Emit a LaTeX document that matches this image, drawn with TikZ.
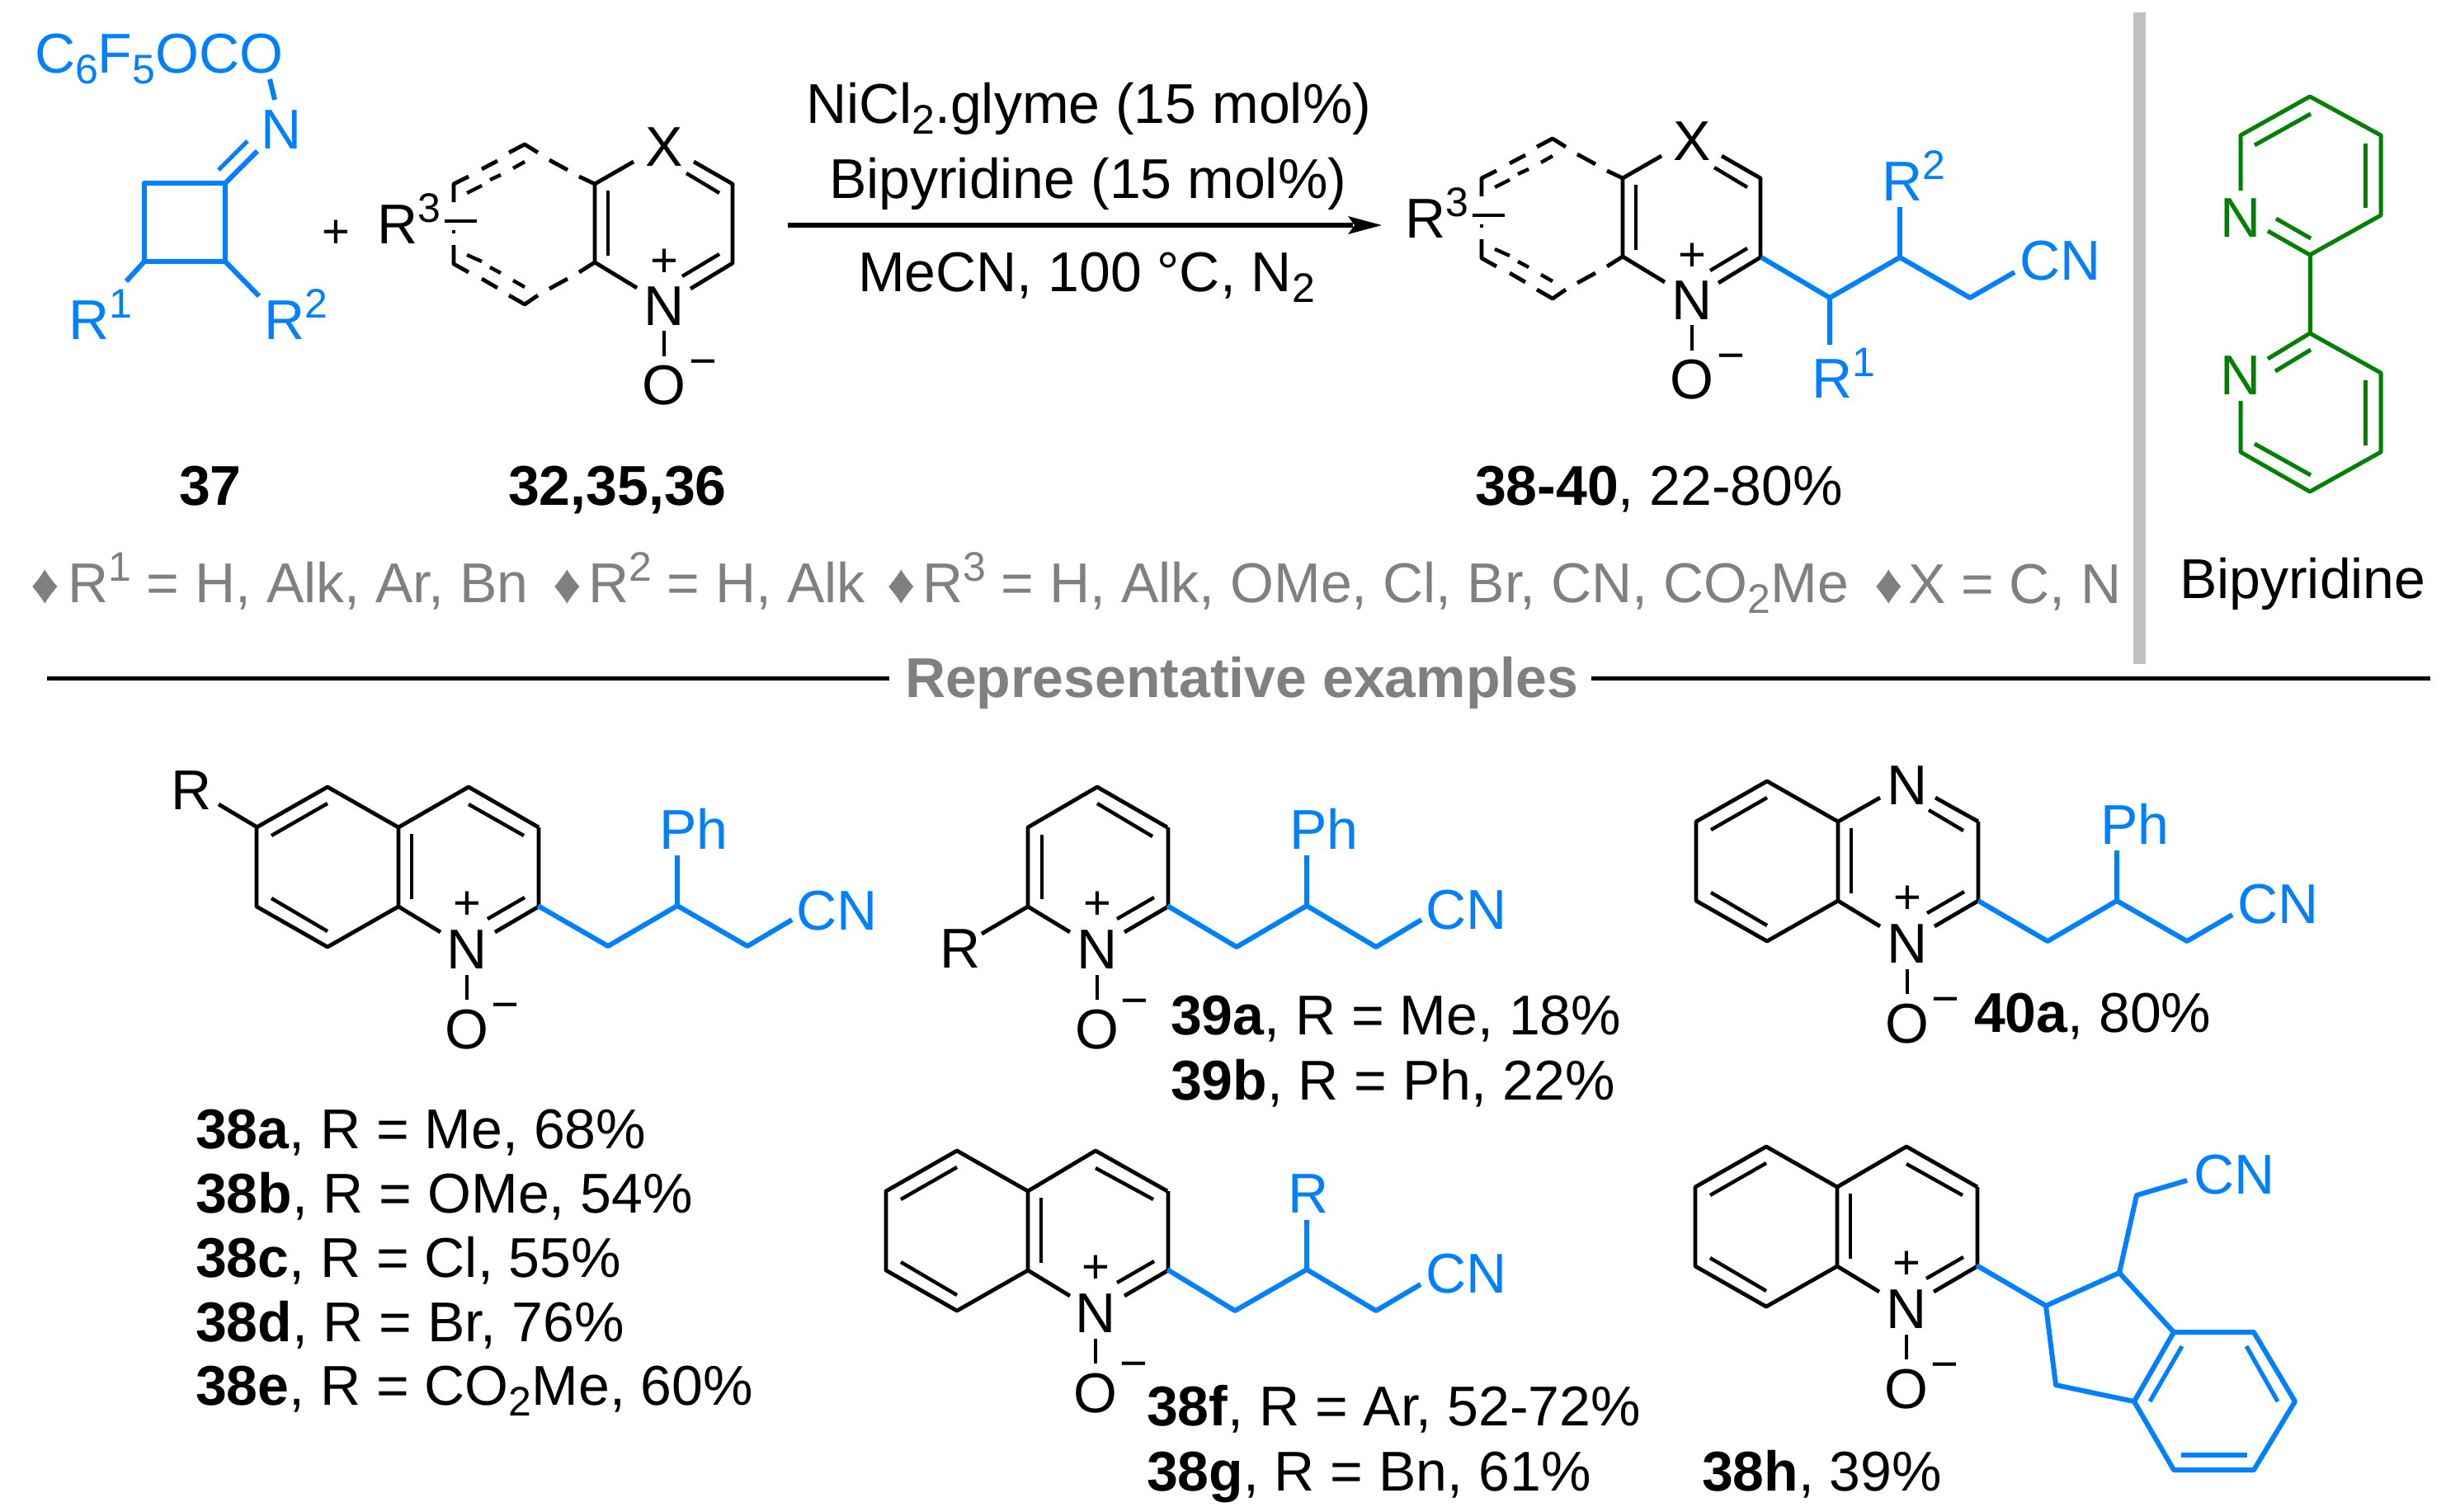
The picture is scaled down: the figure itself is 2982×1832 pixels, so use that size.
\documentclass[tikz,border=0pt]{standalone}
\usepackage{fontspec}
\setmainfont{Liberation Sans}
\definecolor{cblue}{RGB}{0,128,255}
\definecolor{cgreen}{RGB}{0,128,0}
\definecolor{cgray}{RGB}{128,128,128}
\definecolor{cbar}{RGB}{192,192,192}
\newcounter{nn}
\newcommand\tx[4][]{\stepcounter{nn}\node[lab,#1] (n\arabic{nn}) at (#2-3,#3) {#4};}
\newcommand\atm[4][]{\stepcounter{nn}\node[atomlab,#1] (n\arabic{nn}) at (#2,#3) {#4};}
\newcommand\chg[4][]{\stepcounter{nn}\node[chglab,#1] (n\arabic{nn}) at (#2,#3) {#4};}
\newcommand\su[1]{\raisebox{13pt}{\fontsize{25}{25}\selectfont #1}}
\newcommand\sbs[1]{\raisebox{-6.5pt}{\fontsize{25}{25}\selectfont #1}}
% fused benzo ring, origin = upper shared atom
\newcommand\benzo{%
 \draw[bk] (0,0) -- (-86,-49) -- (-172,0) -- (-172,96) -- (-86,145) -- (0,96) -- cycle;
 \draw[bkin] (-154,10) -- (-86,-29);
 \draw[bkin] (-154,86) -- (-86,126);
 \draw[bkin] (16,8) -- (16,87);}
% lower half of pyridinium ring
\newcommand\pyrlow{%
 \draw[bk] (170,0) -- (170,96) -- (117,127);
 \draw[bkin] (108,111) -- (153,85);
 \draw[bk] (0,96) -- (51,127);}
\newcommand\nox[3]{% N x, minus x, minus y
 \atm{#1}{148}{N}
 \chg{#1}{111}{+}
 \draw[bk] (#1,179) -- (#1,209);
 \atm{#1}{245}{O}
 \chg{#2}{#3+17}{−}}
\tikzset{
 lab/.style={anchor=base west,inner sep=0,outer sep=0,font=\fontsize{34}{34}\selectfont},
 atomlab/.style={anchor=center,inner sep=0,outer sep=0,font=\fontsize{34}{34}\selectfont},
 chglab/.style={anchor=base,inner sep=0,outer sep=0,font=\fontsize{29}{29}\selectfont},
 bk/.style={draw=black,line width=2.4pt,line join=round},
 bkin/.style={draw=black,line width=2.2pt},
 bl/.style={draw=cblue,line width=3pt,line join=round},
 blin/.style={draw=cblue,line width=2.6pt},
 gr/.style={draw=cgreen,line width=2.5pt,line join=round},
 blt/.style={text=cblue},
 grt/.style={text=cgreen},
 gyt/.style={text=cgray}
}
\begin{document}
\begin{tikzpicture}[x=0.5pt,y=-0.5pt]
\useasboundingbox (0,0) rectangle (2982,1832);
\fill[white] (0,0) rectangle (2982,1832);

% ---------- reactant 37
\tx[blt]{45}{88}{C\sbs{6}F\sbs{5}OCO}
\atm[blt]{341}{157}{N}
\draw[bl] (333,121) -- (327,96);
\draw[bl] (175,222) rectangle (273,317);
\draw[bl] (273,222) -- (312,183);
\draw[blin] (265,206) -- (300,171);
\draw[bl] (175,317) -- (153,341);
\draw[bl] (273,317) -- (314,359);
\tx[blt]{86}{411}{R\su{1}}
\tx[blt]{323}{411}{R\su{2}}
\chg{407}{300}{+}

% ---------- dashed ring reactant + product
\foreach \dx/\dy in {0/0,1246/-7}{
\begin{scope}[shift={(\dx,\dy)}]
 \draw[bk] (550,245) -- (550,223) -- (568,214);
 \draw[bk] (584,205) -- (603,195);
 \draw[bk] (617,185) -- (636,175) -- (652,185);
 \draw[bk] (666,194) -- (688,206);
 \draw[bk] (702,214) -- (721,223) -- (721,318) -- (702,330);
 \draw[bk] (688,338) -- (666,350);
 \draw[bk] (652,358) -- (636,369) -- (617,358);
 \draw[bk] (603,349) -- (584,338);
 \draw[bk] (568,330) -- (550,320) -- (550,297);
 \draw[bkin] (566,234) -- (584,225);
 \draw[bkin] (594,218) -- (607,212);
 \draw[bkin] (622,204) -- (636,196);
 \draw[bkin] (566,309) -- (584,317);
 \draw[bkin] (594,324) -- (607,331);
 \draw[bkin] (622,340) -- (636,348);
 \draw[bk] (539,268) -- (578,268);
 \draw[bk] (550,279) -- (550,283);
 \draw[bk] (721,223) -- (768,196);
 \draw[bk] (841,196) -- (888,223) -- (888,319) -- (837,350);
 \draw[bkin] (832,210) -- (872,234);
 \draw[bkin] (737,231) -- (737,310);
 \draw[bkin] (827,335) -- (872,308);
 \draw[bk] (721,318) -- (772,349);
 \draw[bk] (805,401) -- (805,432);
 \atm{805}{178}{X}
 \atm{805}{371}{N}
 \chg{805}{335}{+}
 \atm{805}{467}{O}
 \chg{852}{457}{−}
 \tx{460}{295}{R\su{3}}
\end{scope}}
\tx[font=\fontsize{34}{34}\selectfont\bfseries]{220}{612}{37}
\tx[font=\fontsize{34}{34}\selectfont\bfseries]{619}{612}{32,35,36}

% ---------- arrow & conditions
\coordinate (arrA) at (955,273);
\coordinate (arrB) at (1640,273);
\draw[draw=black,line width=3pt] (arrA) -- (arrB);
\fill[black] (1675,273) -- (1634,262) -- (1642,273) -- (1634,284) -- cycle;
\tx{980}{149}{NiCl\sbs{2}.glyme (15 mol\%)}
\tx{1008}{240}{Bipyridine (15 mol\%)}
\tx{1043}{353}{MeCN, 100 °C, N\sbs{2}}

% ---------- product chain
\draw[bl] (2135,312) -- (2218,361) -- (2303,312) -- (2388,361) -- (2442,330);
\draw[bl] (2218,361) -- (2218,418);
\draw[bl] (2303,312) -- (2303,251);
\tx[blt]{2451}{339}{CN}
\tx[blt]{2284}{243}{R\su{2}}
\tx[blt]{2199}{482}{R\su{1}}
\tx{1791}{612}{\textbf{38-40}, 22-80\%}

% ---------- divider & bipyridine
\fill[cbar] (2586,15) rectangle (2601,805);
\draw[gr] (2716,231) -- (2716,164) -- (2800,117) -- (2886,164) -- (2886,261) -- (2800,309) -- (2749,280);
\draw[gr] (2759,265) -- (2801,289);
\draw[gr] (2733,176) -- (2801,138);
\draw[gr] (2867,174) -- (2867,252);
\draw[gr] (2800,309) -- (2800,404);
\draw[gr] (2749,435) -- (2800,404) -- (2886,452) -- (2886,548) -- (2800,596) -- (2716,548) -- (2716,486);
\draw[gr] (2758,450) -- (2801,424);
\draw[gr] (2867,461) -- (2867,540);
\draw[gr] (2733,538) -- (2801,576);
\atm[grt]{2716}{264}{N}
\atm[grt]{2716}{455}{N}
\tx{2645}{725}{Bipyridine}

% ---------- substituent line
\tx[gyt]{41}{731}{♦}
\tx[gyt]{85}{730}{R\su{1} = H, Alk, Ar, Bn}
\tx[gyt]{673}{731}{♦}
\tx[gyt]{716}{730}{R\su{2} = H, Alk}
\tx[gyt]{1078}{731}{♦}
\tx[gyt]{1121}{730}{R\su{3} = H, Alk, OMe, Cl, Br, CN, CO\sbs{2}Me}
\tx[gyt]{2275}{731}{♦}
\tx[gyt]{2316}{731}{X = C, N}

% ---------- rule
\coordinate (ruleA) at (57,822.5);
\coordinate (ruleB) at (1078,822.5);
\coordinate (ruleC) at (1929,822.5);
\coordinate (ruleD) at (2946,822.5);
\draw[black,line width=2.5pt] (ruleA) -- (ruleB);
\draw[black,line width=2.5pt] (ruleC) -- (ruleD);
\tx[gyt,font=\fontsize{34}{34}\selectfont\bfseries]{1100}{845}{Representative examples}

% ---------- 38a-e
\begin{scope}[shift={(483,1003)}]
 \benzo \pyrlow
 \draw[bk] (0,0) -- (85,-49) -- (170,0);
 \draw[bkin] (85,-28) -- (152,10);
 \nox{83}{129}{217}
 \draw[bk] (-171,0) -- (-218,-28);
\end{scope}
\tx{210}{981}{R}
\draw[bl] (652,1098) -- (737,1147) -- (821,1098) -- (906,1147) -- (960,1115);
\draw[bl] (821,1098) -- (821,1037);
\tx[blt]{802}{1029}{Ph}
\tx[blt]{968}{1127}{CN}
\tx{240}{1392}{\textbf{38a}, R = Me, 68\%}
\tx{240}{1470}{\textbf{38b}, R = OMe, 54\%}
\tx{240}{1548}{\textbf{38c}, R = Cl, 55\%}
\tx{240}{1626}{\textbf{38d}, R = Br, 76\%}
\tx{240}{1703}{\textbf{38e}, R = CO\sbs{2}Me, 60\%}

% ---------- 39
\begin{scope}[shift={(1246,1003)}]
 \pyrlow
 \draw[bk] (0,95) -- (0,0) -- (84,-49) -- (169,0);
 \draw[bkin] (84,-29) -- (151,11);
 \draw[bkin] (17,9) -- (17,87);
 \draw[bk] (0,96) -- (-56,129);
 \nox{84}{129}{212}
\end{scope}
\tx{1142}{1173}{R}
\draw[bl] (1415,1098) -- (1499,1148) -- (1584,1098) -- (1668,1148) -- (1723,1115);
\draw[bl] (1584,1098) -- (1584,1037);
\tx[blt]{1566}{1029}{Ph}
\tx[blt]{1731}{1126}{CN}
\tx{1422}{1254}{\textbf{39a}, R = Me, 18\%}
\tx{1422}{1333}{\textbf{39b}, R = Ph, 22\%}

% ---------- 40a
\begin{scope}[shift={(2228,996)}]
 \benzo \pyrlow
 \draw[bk] (0,0) -- (51,-29);
 \draw[bk] (118,-29) -- (170,0);
 \draw[bkin] (110,-14) -- (152,11);
 \atm{84}{-44}{N}
 \nox{84}{130}{217}
\end{scope}
\draw[bl] (2398,1092) -- (2482,1141) -- (2566,1092) -- (2651,1141) -- (2706,1109);
\draw[bl] (2566,1092) -- (2566,1031);
\tx[blt]{2549}{1023}{Ph}
\tx[blt]{2715}{1119}{CN}
\tx{2396}{1251}{\textbf{40a}, 80\%}

% ---------- 38f,g
\begin{scope}[shift={(1246,1444)}]
 \benzo \pyrlow
 \draw[bk] (0,0) -- (82,-49) -- (169,0);
 \draw[bkin] (82,-28) -- (152,10);
 \nox{82}{128}{211}
\end{scope}
\draw[bl] (1415,1539) -- (1497,1589) -- (1584,1539) -- (1668,1589) -- (1722,1557);
\draw[bl] (1584,1539) -- (1584,1479);
\tx[blt]{1564}{1470}{R}
\tx[blt]{1731}{1567}{CN}
\tx{1393}{1728}{\textbf{38f}, R = Ar, 52-72\%}
\tx{1393}{1807}{\textbf{38g}, R = Bn, 61\%}

% ---------- 38h
\begin{scope}[shift={(2227,1439)}]
 \benzo \pyrlow
 \draw[bk] (0,0) -- (84,-49) -- (170,0);
 \draw[bkin] (84,-28) -- (152,10);
 \nox{84}{130}{217}
\end{scope}
\draw[bl] (2396,1534) -- (2480,1583) -- (2569,1543) -- (2590,1449) -- (2651,1431);
\draw[bl] (2480,1583) -- (2492,1679) -- (2587,1699) -- (2635,1615) -- (2569,1543);
\draw[bl] (2635,1615) -- (2732,1615) -- (2782,1699) -- (2732,1782) -- (2635,1782) -- (2587,1699);
\draw[blin] (2645,1632) -- (2606,1699);
\draw[blin] (2723,1632) -- (2761,1699);
\draw[blin] (2644,1764) -- (2724,1764);
\tx[blt]{2662}{1447}{CN}
\tx{2066}{1807}{\textbf{38h}, 39\%}
\end{tikzpicture}
\end{document}
